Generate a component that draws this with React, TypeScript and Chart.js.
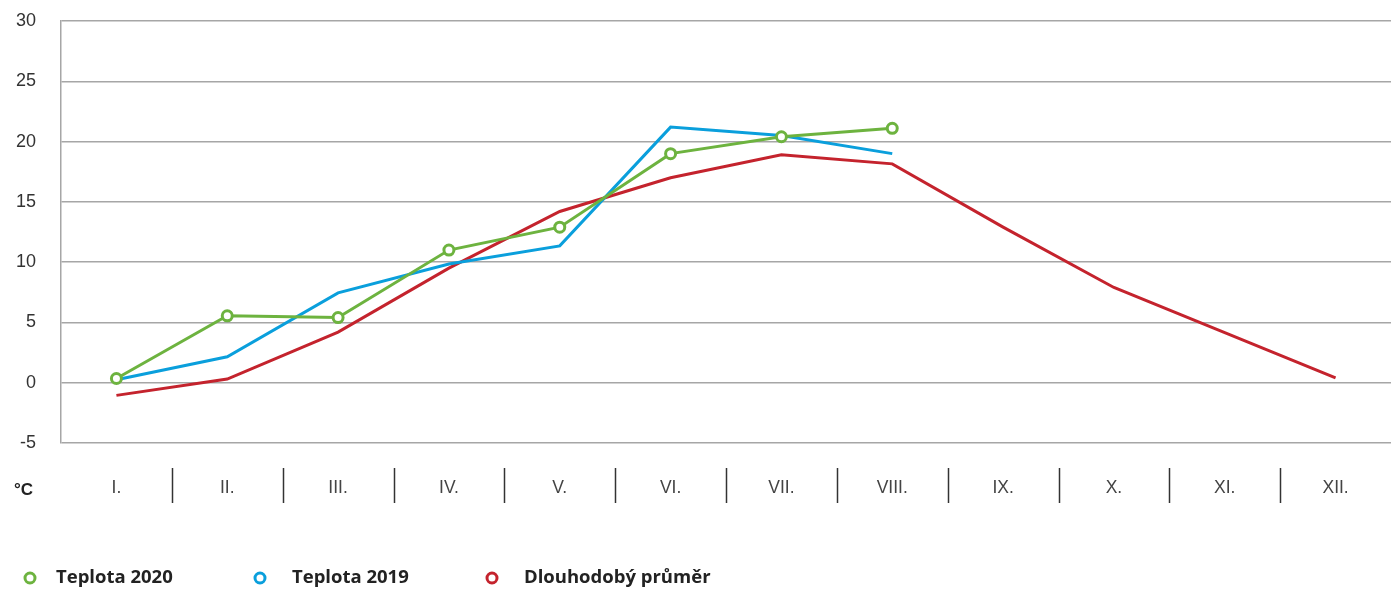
import React, { useEffect, useRef } from "react";
import { Chart, registerables } from "chart.js";

Chart.register(...registerables);

const months = ["I.", "II.", "III.", "IV.", "V.", "VI.", "VII.", "VIII.", "IX.", "X.", "XI.", "XII."];
const temp2020 = [0.35, 5.55, 5.4, 11.0, 12.9, 19.0, 20.4, 21.1, null, null, null, null];
const temp2019 = [0.25, 2.15, 7.45, 9.85, 11.35, 21.2, 20.5, 19.0, null, null, null, null];
const longTerm = [-1.05, 0.3, 4.2, 9.5, 14.2, 17.0, 18.9, 18.15, 12.9, 7.9, 4.15, 0.4];
const yTicks = [-5, 0, 5, 10, 15, 20, 25, 30];

const legendItems = [
  { label: "Teplota 2020", color: "#6db33f", x: 30, tx: 56 },
  { label: "Teplota 2019", color: "#0a9fdc", x: 260, tx: 292 },
  { label: "Dlouhodobý průměr", color: "#c4232d", x: 492, tx: 524 },
];

const decorPlugin = {
  id: "decor",
  afterDraw(chart: any) {
    const ctx = chart.ctx;
    const xs = chart.scales.x;
    ctx.save();
    ctx.strokeStyle = "#333";
    ctx.lineWidth = 1.5;
    for (let i = 0; i < months.length - 1; i++) {
      const x = Math.round((xs.getPixelForTick(i) + xs.getPixelForTick(i + 1)) / 2) + 0.5;
      ctx.beginPath();
      ctx.moveTo(x, 468);
      ctx.lineTo(x, 503);
      ctx.stroke();
    }
    ctx.fillStyle = "#222";
    ctx.font = "bold 17px 'Liberation Sans', Arial, sans-serif";
    ctx.textBaseline = "middle";
    ctx.textAlign = "left";
    ctx.fillText("°C", 14, 490);
    ctx.font = "bold 18.5px 'Open Sans', sans-serif";
    legendItems.forEach((it) => {
      ctx.beginPath();
      ctx.arc(it.x, 578, 5, 0, Math.PI * 2);
      ctx.fillStyle = "#fff";
      ctx.fill();
      ctx.lineWidth = 3;
      ctx.strokeStyle = it.color;
      ctx.stroke();
      ctx.fillStyle = "#222";
      ctx.fillText(it.label, it.tx, 578);
    });
    ctx.restore();
  },
};

export default function App() {
  const ref = useRef<HTMLCanvasElement | null>(null);
  useEffect(() => {
    document.body.style.margin = "0";
    if (!ref.current) return;
    const chart = new Chart(ref.current, {
      type: "line",
      data: {
        labels: months,
        datasets: [
          {
            label: "Teplota 2020",
            data: temp2020,
            borderColor: "#6db33f",
            backgroundColor: "#ffffff",
            borderWidth: 3,
            pointRadius: 5,
            pointBorderWidth: 3,
            pointBackgroundColor: "#ffffff",
            pointBorderColor: "#6db33f",
            tension: 0,
          },
          {
            label: "Teplota 2019",
            data: temp2019,
            borderColor: "#0a9fdc",
            borderWidth: 3,
            pointRadius: 0,
            tension: 0,
          },
          {
            label: "Dlouhodobý průměr",
            data: longTerm,
            borderColor: "#c4232d",
            borderWidth: 3,
            pointRadius: 0,
            tension: 0,
          },
        ],
      },
      options: {
        animation: false,
        responsive: false,
        maintainAspectRatio: false,
        layout: { autoPadding: false, padding: { top: 21, right: 0, left: 0, bottom: 0 } },
        plugins: { legend: { display: false }, tooltip: { enabled: false } },
        scales: {
          x: {
            offset: true,
            grid: { display: false, drawTicks: false },
            border: { display: false },
            ticks: {
              padding: 35,
              color: "#444",
              font: { family: "'Liberation Sans', Arial, sans-serif", size: 17.5 },
              maxRotation: 0,
            },
            afterFit(scale: any) {
              scale.height = 146;
              scale.paddingLeft = 0;
              scale.paddingRight = 0;
            },
          },
          y: {
            min: -5,
            max: 30,
            afterBuildTicks(scale: any) {
              scale.ticks = yTicks.map((v) => ({ value: v }));
            },
            grid: { color: "#a6a6a6", lineWidth: 1.5, drawTicks: false },
            border: { display: true, color: "#a6a6a6", width: 1.5 },
            ticks: {
              padding: 25,
              color: "#333",
              font: { family: "'Liberation Sans', Arial, sans-serif", size: 18 },
            },
            afterFit(scale: any) {
              scale.width = 61;
              scale.paddingTop = 0;
              scale.paddingBottom = 0;
            },
          },
        },
      },
      plugins: [decorPlugin],
    });
    return () => chart.destroy();
  }, []);
  return (
    <div style={{ width: 1391, height: 589 }}>
      <canvas ref={ref} width={1391} height={589} style={{ display: "block" }} />
    </div>
  );
}
